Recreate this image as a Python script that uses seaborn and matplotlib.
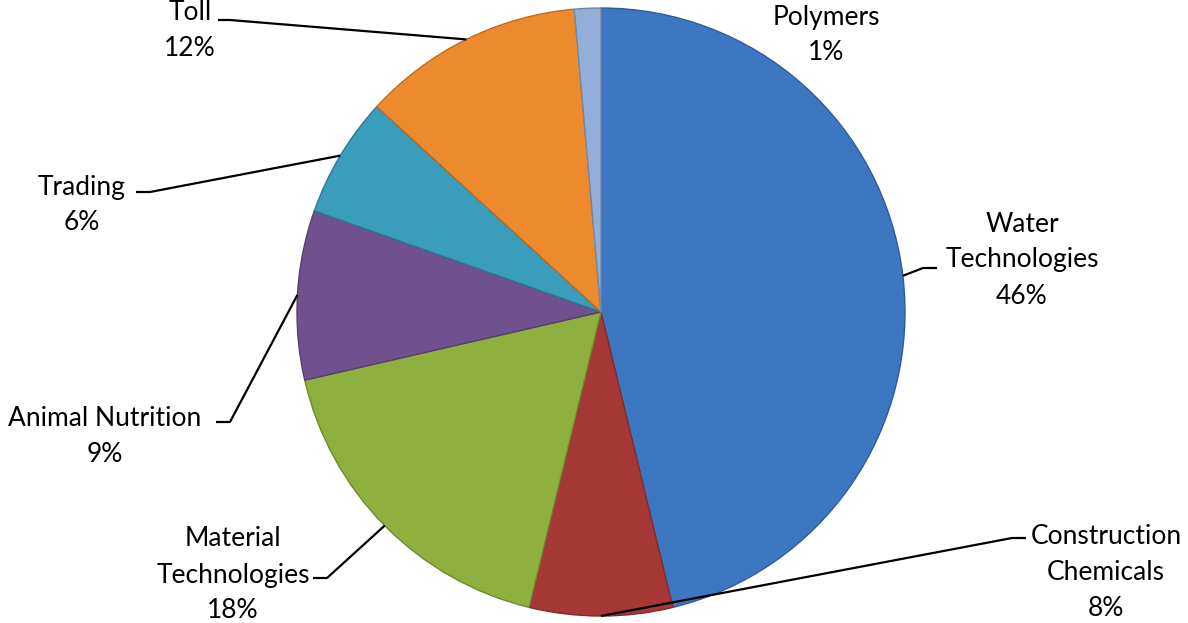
import numpy as np
import matplotlib.pyplot as plt
import matplotlib.colors as mcolors
import seaborn as sns

# data (clockwise from 12 o'clock)
segments = ["Water\nTechnologies", "Construction\nChemicals", "Material\nTechnologies",
            "Animal Nutrition", "Trading", "Toll", "Polymers"]
shares = [46.2, 7.6, 17.6, 9.0, 6.4, 11.8, 1.4]
pct_labels = ["46%", "8%", "18%", "9%", "6%", "12%", "1%"]
colors = ["#3D76C1", "#A53835", "#8DB03E", "#71508F", "#3A9DBB", "#EE8A2E", "#93AED8"]

sns.set_theme(style="white")
plt.rcParams["font.family"] = ["Lato", "DejaVu Sans"]

W, H = 1188, 623
fig = plt.figure(figsize=(W / 100, H / 100), dpi=100)
ax = fig.add_axes([0, 0, 1, 1])

cx, cy, r = 601, H - 312, 304

def darker(c, f=0.8):
    rgb = np.array(mcolors.to_rgb(c))
    return tuple(rgb * f)

wedges, _ = ax.pie(shares, colors=colors, startangle=90, counterclock=False,
                   center=(cx, cy), radius=r)
for w, c in zip(wedges, colors):
    w.set_edgecolor(darker(c, 0.78))
    w.set_linewidth(1.0)

ax.set_xlim(0, W)
ax.set_ylim(0, H)
ax.set_aspect("equal")
ax.axis("off")

# label layout in pixel coords (x, y from top): text center, leader end, elbow
layout = {
    "Water\nTechnologies": ((1022, 260), (937, 268), (923, 268)),
    "Construction\nChemicals": ((1106, 573), (1026, 538), (1012, 538)),
    "Material\nTechnologies": ((233, 575), (313, 578), (327, 578)),
    "Animal Nutrition": ((105, 437), (216, 422), (230, 422)),
    "Trading": ((82, 205), (136, 192), (150, 192)),
    "Toll": ((190, 31), (218, 20), (230, 20)),
    "Polymers": ((826, 35), None, None),
}

cum = np.cumsum([0] + shares)
total = cum[-1]
for i, (name, pct) in enumerate(zip(segments, pct_labels)):
    (tx, ty), end, elbow = layout[name]
    ax.text(tx, H - ty, f"{name}\n{pct}", ha="center", va="center",
            fontsize=19, color="black", linespacing=1.55)
    if end is None:
        continue
    mid = (cum[i] + cum[i + 1]) / 2 / total * 2 * np.pi
    px, py = cx + r * np.sin(mid), cy + r * np.cos(mid)
    ax.plot([px, elbow[0], end[0]], [py, H - elbow[1], H - end[1]],
            color="black", lw=1.6, solid_capstyle="butt", zorder=5)

fig.savefig("out.png", dpi=100)
